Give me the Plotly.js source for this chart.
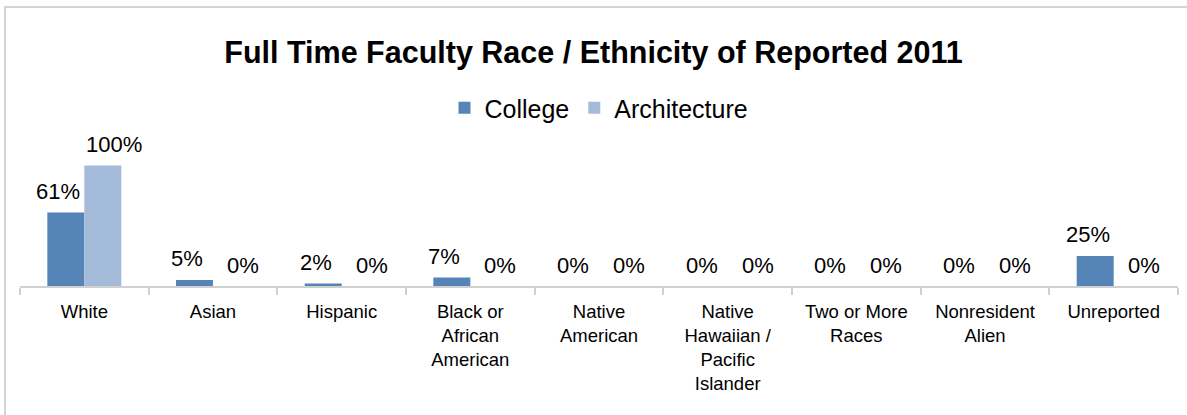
<!DOCTYPE html>
<html>
<head>
<meta charset="utf-8">
<script src="https://cdn.plot.ly/plotly-3.0.1.min.js"></script>
<style>
  html, body { margin: 0; padding: 0; background: #fff; overflow: hidden; }
  #wrap { position: relative; width: 1187px; height: 415px; }
  #chart { position: absolute; left: 0; top: 0; width: 1187px; height: 415px; }
  #frame { position: absolute; left: 4px; top: 6px; width: 1300px; height: 600px;
           border: 2px solid #D4D4D4; pointer-events: none; }
</style>
</head>
<body>
<div id="wrap">
  <div id="chart"></div>
  <div id="frame"></div>
</div>
<script>
const categories = [
  "White", "Asian", "Hispanic", "Black or<br>African<br>American", "Native<br>American",
  "Native<br>Hawaiian /<br>Pacific<br>Islander", "Two or More<br>Races", "Nonresident<br>Alien", "Unreported"
];
const collegeValues = [0.61, 0.05, 0.02, 0.07, 0, 0, 0, 0, 0.25];
const architectureValues = [1.00, 0, 0, 0, 0, 0, 0, 0, 0];
const seriesNames = ["College", "Architecture"];
const titleText = "Full Time Faculty Race / Ethnicity of Reported 2011";

const pct = v => Math.round(v * 100) + "%";
const FONT = "Liberation Sans, Arial, sans-serif";
const labelFont = { family: FONT, size: 22, color: "#000" };

const traces = [
  {
    type: "bar", name: seriesNames[0], x: categories, y: collegeValues,
    marker: { color: "#5585B6" }, hoverinfo: "none"
  },
  {
    type: "bar", name: seriesNames[1], x: categories, y: architectureValues,
    marker: { color: "#A4BAD9" }, hoverinfo: "none"
  }
];

// data labels, placed at each bar's category and value (Excel-style labels sit a bit outward)
const annotations = [];
categories.forEach((c, i) => {
  annotations.push({
    x: c, y: collegeValues[i], xref: "x", yref: "y", text: pct(collegeValues[i]),
    showarrow: false, xanchor: "center", yanchor: "middle",
    xshift: -26, yshift: 21, font: labelFont
  });
  annotations.push({
    x: c, y: architectureValues[i], xref: "x", yref: "y", text: pct(architectureValues[i]),
    showarrow: false, xanchor: "center", yanchor: "middle",
    xshift: 30, yshift: 21, font: labelFont
  });
});

const layout = {
  width: 1187, height: 415,
  margin: { l: 20, r: 9, t: 120, b: 129, pad: 0 },
  paper_bgcolor: "rgba(0,0,0,0)", plot_bgcolor: "rgba(0,0,0,0)",
  font: { family: FONT, color: "#000" },
  title: {
    text: "<b>" + titleText + "</b>",
    font: { size: 30.5, color: "#000" },
    x: 0.5, xanchor: "center", xref: "container",
    y: 1 - 52 / 415, yanchor: "middle", yref: "container"
  },
  showlegend: true,
  legend: {
    orientation: "h", x: 0.5, xanchor: "center", xref: "paper",
    y: 1 - 108 / 415, yanchor: "middle", yref: "container",
    font: { size: 25, color: "#000" }, itemclick: false, itemdoubleclick: false,
    bgcolor: "rgba(0,0,0,0)", itemwidth: 30
  },
  annotations: annotations,
  barmode: "group", bargap: 0.425, bargroupgap: 0,
  xaxis: {
    type: "category", showline: true, linecolor: "#D0D0D0", linewidth: 2,
    ticks: "outside", tickson: "boundaries", ticklen: 7, tickcolor: "#D0D0D0", tickwidth: 2,
    tickfont: { size: 18.5, color: "#000" }, ticklabelstandoff: 8,
    showgrid: false, zeroline: false, fixedrange: true
  },
  yaxis: {
    range: [0, 166 / 129], visible: false, showgrid: false, zeroline: false, fixedrange: true
  }
};

Plotly.newPlot("chart", traces, layout, { displayModeBar: false, staticPlot: true });
</script>
</body>
</html>
